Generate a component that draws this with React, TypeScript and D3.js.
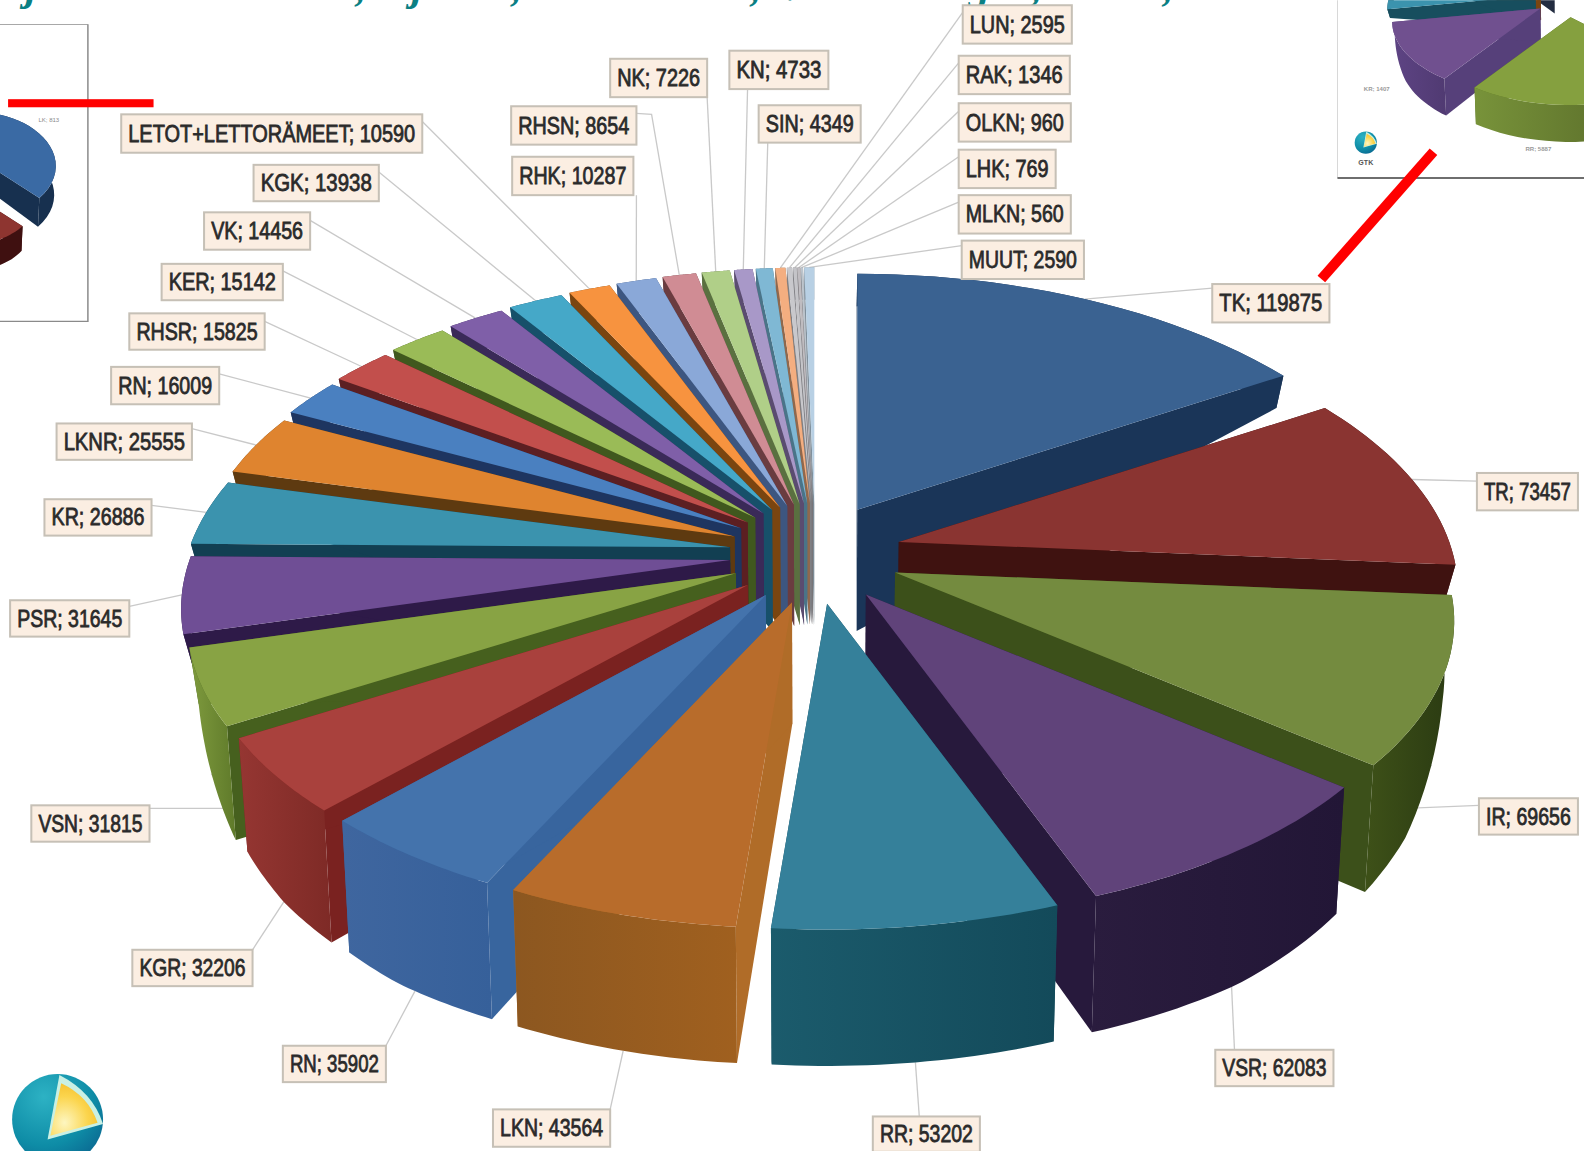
import React from "react";
import * as d3 from "d3";

// Mineral occurrence counts per rock class, clockwise from twelve o'clock.
const categories = ["TK","TR","IR","VSR","RR","LKN","RN","KGR","VSN","PSR","KR","LKNR","RN","RHSR","KER","VK","KGK","LETOT+LETTORÄMEET","RHK","RHSN","NK","KN","SIN","LUN","RAK","OLKN","LHK","MLKN","MUUT"];
const counts = [119875,73457,69656,62083,53202,43564,35902,32206,31815,31645,26886,25555,16009,15825,15142,14456,13938,10590,10287,8654,7226,4733,4349,2595,1346,960,769,560,2590];

const topColors = ["#3A6291","#8A3431","#748B3F","#60437A","#35809A","#B86C2B","#4473AC","#A9413D","#88A344","#6F4E95","#3B93AE","#DF842F","#4A80C0","#C24F4C","#9ABB57","#7F5FA8","#45A8C8","#F7933F","#8AA8D8","#D08C94","#B0CF88","#A898C8","#7FB8D4","#F4AE80","#C8C8CC","#C4C4C8","#BFBCC0","#BCC4CC","#B8D0E4"];
const sideColors = ["#1A3558","#3F1210","#3C501A","#27193C","#174E5E","#B06C28","#38659E","#7A2220","#46601E","#2E1A48","#123F52","#5E3A10","#1E3560","#5C1F22","#40581E","#3A2A58","#17506A","#7A4510","#3D5680","#6A3C40","#5A7040","#5A4C70","#4A7488","#90684C","#808084","#7C7C80","#787478","#7A8086","#80909C"];
const rimColorsA = ["#1A3558","#3F1210","#3E5118","#2A1C3E","#1B5B6C","#8C5720","#3F669F","#953632","#7F9B3E","#2E1A48","#123F52","#5E3A10","#1E3560","#5C1F22","#40581E","#3A2A58","#17506A","#7A4510","#3D5680","#6A3C40","#5A7040","#5A4C70","#4A7488","#90684C","#808084","#7C7C80","#787478","#7A8086","#80909C"];
const rimColorsB = ["#1A3558","#3F1210","#2A3A12","#221636","#134A5A","#A0601F","#36609A","#7E2A26","#5F7A2A","#2E1A48","#123F52","#5E3A10","#1E3560","#5C1F22","#40581E","#3A2A58","#17506A","#7A4510","#3D5680","#6A3C40","#5A7040","#5A4C70","#4A7488","#90684C","#808084","#7C7C80","#787478","#7A8086","#80909C"];

// Label boxes (x, y, w, h), where each leader leaves the box, an optional bend.
const labelBoxes = [
  { box: [1200,281,116,38], from: [1200,285] },
  { box: [1462,468,100,37], from: [1462,476] },
  { box: [1464,790,98,36], from: [1464,797], via: [1392,800] },
  { box: [1203,1039,117,36], from: [1222,1039] },
  { box: [864,1105,106,35], from: [910,1105] },
  { box: [488,1098,116,37], from: [604,1098] },
  { box: [280,1035,102,36], from: [382,1035] },
  { box: [131,940,119,36], from: [250,940] },
  { box: [31,797,117,36], from: [148,800], via: [228,800] },
  { box: [10,594,118,36], from: [128,600] },
  { box: [44,494,106,36], from: [150,500] },
  { box: [56,419,134,36], from: [190,424] },
  { box: [110,363,107,37], from: [217,370] },
  { box: [128,310,134,36], from: [262,318] },
  { box: [160,261,120,36], from: [280,268] },
  { box: [202,210,105,37], from: [307,218] },
  { box: [251,163,124,36], from: [375,170] },
  { box: [120,113,298,38], from: [418,120] },
  { box: [507,155,120,38], from: [630,193] },
  { box: [506,105,124,38], from: [630,112], via: [645,113] },
  { box: [604,58,96,38], from: [700,96] },
  { box: [722,50,98,38], from: [740,88] },
  { box: [751,104,101,37], from: [760,141] },
  { box: [953,5,108,38], from: [953,12] },
  { box: [949,55,110,38], from: [949,62] },
  { box: [949,102,111,38], from: [949,110] },
  { box: [949,148,96,38], from: [949,155] },
  { box: [949,193,111,38], from: [949,200] },
  { box: [952,238,121,38], from: [952,243] },
];

// Small overview pies in the corners, with their own slice shares.
const cornerLeftValues = [134, 56, 170];
const cornerLeftTops = ["#3A6AA4", "#8E3530", "#8E8E8E"];
const cornerLeftSides = ["#17304F", "#3F1010", "#555555"];
const cornerRightValues = [135, 80, 45, 35, 17, 48];
const cornerRightTops = ["#3A6AA4", "#85A03F", "#70508F", "#3B93AE", "#A86A2A", "#44536E"];
const cornerRightSides = ["#17304F", "#55701F", "#56407A", "#174E5E", "#7A4510", "#222C40"];
const cornerRightRimA = ["#17304F", "#78933A", "#5E4484", "#174E5E", "#7A4510", "#222C40"];
const cornerRightRimB = ["#17304F", "#4F5F24", "#503A72", "#174E5E", "#7A4510", "#222C40"];

// Perspective model of the tilted disc.
const CX = 807, CY = 548;
const RX_RIGHT = 545, RY = 278;
const rxLeftScale = d3.scaleLinear().domain([0.25, 0.8]).range([535, 552]).clamp(true);
const PERSP_X = 0.18, PERSP_Y = 0.16;
const SHIFT_X = 85, SHIFT_Y = 50;
const APEX_DEPTH = 120;
const BACK_RIM_DEPTH = 32;
const BOTTOM_TAPER = 0.015;
const rimDepthScale = d3.scaleLinear().domain([-1, 0, 0.25, 0.5, 0.62, 0.8, 1]).range([30, 30, 55, 112, 125, 135, 135]).clamp(true);

const polygon = d3.line<[number, number]>();

type Arc = d3.PieArcDatum<number>;
const layoutPie = (values: number[]): Arc[] =>
  d3.pie<number>().sort(null).startAngle(0).endAngle(2 * Math.PI)(values);

function sliceGeometry(arc: Arc, explode = 1, depthScale = 1, backDepth = BACK_RIM_DEPTH) {
  const mid = (arc.startAngle + arc.endAngle) / 2;
  const apex: [number, number] = [CX + explode * SHIFT_X * Math.sin(mid), CY - explode * SHIFT_Y * Math.cos(mid)];
  const backSlice = -Math.cos(mid) < 0.2;
  const rim = (t: number): [number, number] => {
    const c = Math.cos(t);
    const s = Math.sin(t);
    return [apex[0] + (s < 0 ? rxLeftScale(c) : RX_RIGHT) * (1 - PERSP_X * c) * s, apex[1] - RY * (1 - PERSP_Y * c) * c];
  };
  const drop = (p: [number, number], d: number): [number, number] => [
    p[0] + (CX - p[0]) * BOTTOM_TAPER,
    p[1] + d * depthScale,
  ];
  const rimDepth = (t: number) => (backSlice ? backDepth : rimDepthScale(-Math.cos(t)));
  const apexLow = drop(apex, APEX_DEPTH);
  const steps = d3.range(0, 25).map((i) => arc.startAngle + ((arc.endAngle - arc.startAngle) * i) / 24);
  const arcTop = steps.map(rim);
  const arcLow = steps.map((t) => drop(rim(t), rimDepth(t)));
  return {
    mid,
    top: polygon([apex, ...arcTop]) + "Z",
    startWall: polygon([apex, arcTop[0], arcLow[0], apexLow]) + "Z",
    endWall: polygon([apex, arcTop[24], arcLow[24], apexLow]) + "Z",
    rimWall: polygon([...arcTop, ...arcLow.slice().reverse()]) + "Z",
    target: () => (-Math.cos(mid) >= 0.2 ? drop(rim(mid), rimDepth(mid)) : rim(mid)),
  };
}

const paintOrder = (arcs: Arc[]) =>
  arcs.slice().sort((a, b) =>
    -Math.cos((a.startAngle + a.endAngle) / 2) - -Math.cos((b.startAngle + b.endAngle) / 2));

function Pie3D({ values, tops, sides, rimA, rimB, id, explode = 1, depthScale = 1, backDepth = BACK_RIM_DEPTH }: any) {
  const arcs = layoutPie(values);
  return (
    <g>
      <defs>
        {arcs.map((a) => (
          <linearGradient key={a.index} id={`${id}-rim-${a.index}`}>
            <stop offset="0" stopColor={rimA[a.index]} />
            <stop offset="1" stopColor={rimB[a.index]} />
          </linearGradient>
        ))}
      </defs>
      {paintOrder(arcs).map((a) => {
        const g = sliceGeometry(a, explode, depthScale, backDepth);
        return (
          <g key={a.index}>
            <path d={g.startWall} fill={sides[a.index]} />
            <path d={g.endWall} fill={sides[a.index]} />
            <path d={g.rimWall} fill={`url(#${id}-rim-${a.index})`} />
            <path d={g.top} fill={tops[a.index]} />
          </g>
        );
      })}
    </g>
  );
}

function Globe({ cx, cy, r, id }: { cx: number; cy: number; r: number; id: string }) {
  return (
    <g>
      <defs>
        <radialGradient id={`${id}-sphere`} cx="0.35" cy="0.25" r="0.9">
          <stop offset="0" stopColor="#2DB2C4" />
          <stop offset="0.6" stopColor="#0E8CA6" />
          <stop offset="1" stopColor="#0A5F8C" />
        </radialGradient>
        <radialGradient id={`${id}-core`} cx="0.3" cy="0.75" r="0.9">
          <stop offset="0" stopColor="#FDF6C0" />
          <stop offset="0.55" stopColor="#FBD54E" />
          <stop offset="1" stopColor="#F4B820" />
        </radialGradient>
      </defs>
      <circle cx={cx} cy={cy} r={r} fill={`url(#${id}-sphere)`} />
      <path
        d={`M${cx + r * 0.04},${cy - r * 0.98} L${cx - r * 0.22},${cy + r * 0.44} L${cx + r},${cy + r * 0.1} Q${cx + r * 0.78},${cy - r * 0.6} ${cx + r * 0.04},${cy - r * 0.98}Z`}
        fill="#C9F0E4"
      />
      <path
        d={`M${cx + r * 0.08},${cy - r * 0.8} L${cx - r * 0.16},${cy + r * 0.36} L${cx + r * 0.88},${cy + r * 0.07} Q${cx + r * 0.68},${cy - r * 0.52} ${cx + r * 0.08},${cy - r * 0.8}Z`}
        fill={`url(#${id}-core)`}
      />
    </g>
  );
}

export default function App() {
  const arcs = layoutPie(counts);
  return (
    <svg
      width={1584}
      height={1151}
      viewBox="0 0 1568 1139"
      style={{ position: "absolute", left: 0, top: 0, display: "block", background: "#fff" }}
    >
      <defs>
        <clipPath id="corner-left"><rect x={0} y={24} width={87} height={294} /></clipPath>
        <clipPath id="corner-right"><rect x={1324} y={0} width={244} height={176} /></clipPath>
      </defs>

      {/* Slide heading, cut off by the top of the frame */}
      <text fontFamily="'Liberation Serif', serif" fontWeight="700" fontStyle="italic" fontSize={42} fill="#0B8084" y={0}>
        <tspan x={4}>oj</tspan>
        <tspan x={140}>etu</tspan>
        <tspan x={230}>alue</tspan>
        <tspan x={352}>,</tspan>
        <tspan x={386}>oj</tspan>
        <tspan x={440}>Ni</tspan>
        <tspan x={506}>,</tspan>
        <tspan x={570}>Malmi</tspan>
        <tspan x={743}>,</tspan>
        <tspan x={770}>Vuo</tspan>
        <tspan x={860}>rov</tspan>
        <tspan x={938}>ag</tspan>
        <tspan x={1021}>,</tspan>
        <tspan x={1080}>Mu</tspan>
        <tspan x={1151}>,</tspan>
      </text>

      {/* Overview pie, lower left part of the left corner panel */}
      <g clipPath="url(#corner-left)">
        <g transform="translate(-167,59) scale(0.145,0.19)">
          <Pie3D id="cl" values={cornerLeftValues} tops={cornerLeftTops} sides={cornerLeftSides} rimA={cornerLeftSides} rimB={cornerLeftSides} explode={2.2} backDepth={150} />
        </g>
        <text x={38} y={121} fontFamily="'Liberation Sans', sans-serif" fontSize={6} fill="#8a8a8a">LK; 813</text>
      </g>
      <path d="M0,24 H87 V318 H0" fill="none" stroke="#A8A8A8" strokeWidth={1} />
      <path d="M0,318 H87 V24" fill="none" stroke="#8A8A8A" strokeWidth={1.2} />

      {/* Overview pie, top right corner panel */}
      <g clipPath="url(#corner-right)">
        <g transform="translate(1334,-150) scale(0.27)">
          <Pie3D id="cr" values={cornerRightValues} tops={cornerRightTops} sides={cornerRightSides} rimA={cornerRightRimA} rimB={cornerRightRimB} explode={1.4} />
        </g>
        <text x={1350} y={90} fontFamily="'Liberation Sans', sans-serif" fontWeight="700" fontSize={6} fill="#9a9a9a">KR; 1407</text>
        <text x={1510} y={149} fontFamily="'Liberation Sans', sans-serif" fontWeight="700" fontSize={6} fill="#9a9a9a">RR; 5887</text>
        <Globe id="gsmall" cx={1352} cy={141} r={11} />
        <text x={1352} y={163} textAnchor="middle" fontFamily="'Liberation Sans', sans-serif" fontWeight="700" fontSize={7} fill="#555">GTK</text>
      </g>
      <path d="M1324,0 V176 H1568" fill="none" stroke="#D8D8D8" strokeWidth={1} />
      <path d="M1324,176 H1568" fill="none" stroke="#444" strokeWidth={1.5} />

      {/* Leader lines run under the pie */}
      <g fill="none" stroke="#C9C9C9" strokeWidth={1.3}>
        {arcs.map((a, i) => {
          const g = sliceGeometry(a);
          const l = labelBoxes[i];
          const pts: [number, number][] = [l.from as [number, number]];
          if (l.via) pts.push(l.via as [number, number]);
          pts.push(g.target());
          return <path key={i} d={polygon(pts) as string} />;
        })}
      </g>

      <Pie3D id="main" values={counts} tops={topColors} sides={sideColors} rimA={rimColorsA} rimB={rimColorsB} />

      {/* Value labels */}
      <g>
        {counts.map((v, i) => {
          const [x, y, w, h] = labelBoxes[i].box;
          const label = `${categories[i]}; ${v}`;
          return (
            <g key={i}>
              <rect x={x} y={y} width={w} height={h} fill="#FBEEE2" stroke="#C6C0B6" strokeWidth={2} />
              <text
                x={x + w / 2}
                y={y + h / 2 + 8}
                textAnchor="middle"
                fontFamily="'Liberation Sans Narrow', 'Liberation Sans', sans-serif"
                fontSize={24}
                fill="#2A2A2A"
                stroke="#2A2A2A"
                strokeWidth={0.8}
                textLength={w - 14}
                lengthAdjust="spacingAndGlyphs"
              >
                {label}
              </text>
            </g>
          );
        })}
      </g>

      {/* Red pointers drawn over the slide */}
      <rect x={8} y={98} width={144} height={8} fill="#FF0000" />
      <line x1={1308} y1={276} x2={1419} y2={150} stroke="#FF0000" strokeWidth={10} />

      <Globe id="gbig" cx={57} cy={1108} r={45} />
    </svg>
  );
}
